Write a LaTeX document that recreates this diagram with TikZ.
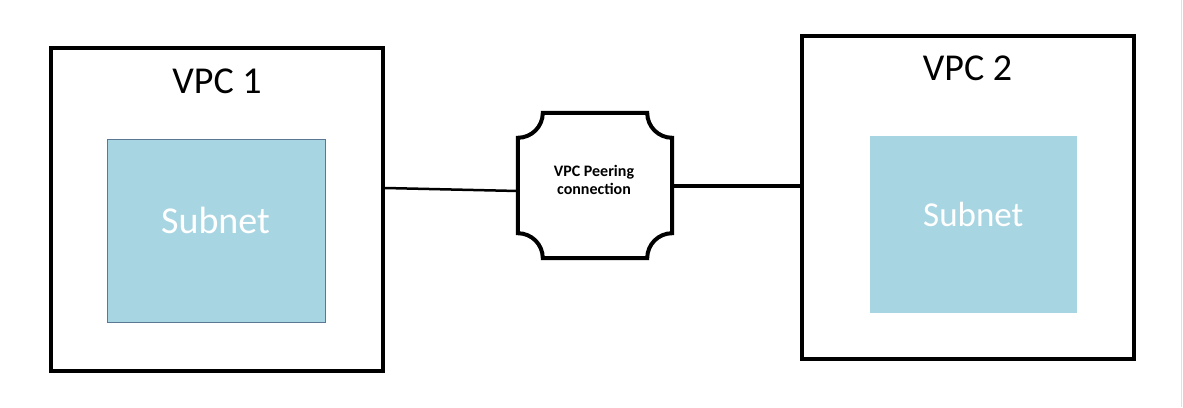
\documentclass[tikz,border=0pt]{standalone}
\usepackage{fontspec}
\setmainfont{Carlito}
\usepackage{xcolor}
\definecolor{subnetblue}{HTML}{A8D5E2}
\definecolor{subnetedge}{HTML}{5A7894}

\begin{document}
\begin{tikzpicture}[x=1pt,y=-1pt,
	vpcbox/.style={draw, line width=4pt, inner sep=0pt, minimum width=332pt, minimum height=323pt},
	subnetbox/.style={fill=subnetblue, inner sep=0pt},
	title/.style={font=\fontsize{38}{40}\selectfont},
	subnettext/.style={text=white, font=\fontsize{38}{40}\selectfont}]
	\useasboundingbox[fill=white] (0,0) rectangle (1183,407);
	\draw[black!12] (1181.5,0) -- (1181.5,407);

	\node (V1)[vpcbox] at (217,209) {};
	\node (V2)[vpcbox] at (967.5,197.5) {};
	\node (T1)[title] at (217,81) {VPC 1};
	\node (T2)[title] at (967.5,68) {VPC 2};

	\node (S1)[subnetbox, draw=subnetedge, line width=0.8pt, minimum width=218pt, minimum height=183pt] at (216,230.7) {};
	\node (S2)[subnetbox, minimum width=207pt, minimum height=177pt] at (973.7,224.3) {};
	\node (L1)[subnettext] at (215.5,220) {Subnet};
	\node (L2)[subnettext, font=\fontsize{35}{37}\selectfont] at (973.3,214) {Subnet};

	\node (P)[draw=none, inner sep=0pt, minimum width=154pt, minimum height=145pt] at (595,185.5) {};
	\draw[line width=4pt, line join=miter]
	([yshift=-25pt]P.north west) arc[start angle=-90, end angle=0, radius=25pt]
	-- ([xshift=-25pt]P.north east) arc[start angle=180, end angle=270, radius=25pt]
	-- ([yshift=25pt]P.south east) arc[start angle=90, end angle=180, radius=25pt]
	-- ([xshift=25pt]P.south west) arc[start angle=0, end angle=90, radius=25pt]
	-- cycle;
	\node (PL)[align=center, font=\bfseries\fontsize{16}{18}\selectfont] at (594,180) {VPC Peering\\connection};

	\draw[line width=2.5pt] ([yshift=21pt]V1.east) -- ([yshift=-5.5pt]P.west);
	\draw[line width=4pt] ([yshift=-0.5pt]P.east) -- ([yshift=11.5pt]V2.west);
\end{tikzpicture}
\end{document}
